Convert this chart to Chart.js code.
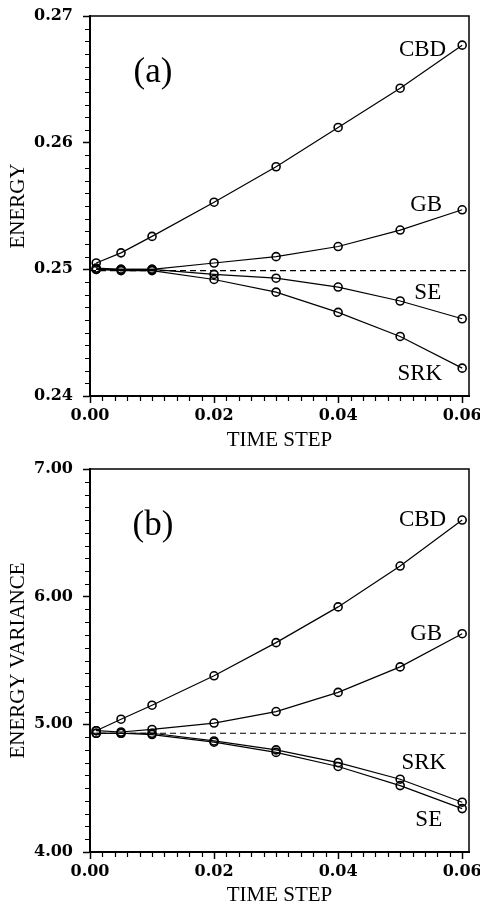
<!DOCTYPE html>
<html>
<head>
<meta charset="utf-8">
<script src="https://cdn.jsdelivr.net/npm/chart.js@4.4.1/dist/chart.umd.min.js"></script>
<style>
  html, body { margin: 0; padding: 0; background: #fff; }
  canvas { display: block; }
</style>
</head>
<body>
<canvas id="chartA" width="480" height="451"></canvas>
<canvas id="chartB" width="480" height="451"></canvas>
<script>
// time steps shared by both panels
const timeSteps = [0.001, 0.005, 0.01, 0.02, 0.03, 0.04, 0.05, 0.06];
const xTicks = [0.00, 0.02, 0.04, 0.06];

// (a) energy
const energyCBD = [0.2505, 0.2513, 0.2526, 0.2553, 0.2581, 0.2612, 0.2643, 0.2677];
const energyGB  = [0.2501, 0.2500, 0.2500, 0.2505, 0.2510, 0.2518, 0.2531, 0.2547];
const energySE  = [0.2500, 0.2500, 0.2500, 0.2496, 0.2493, 0.2486, 0.2475, 0.2461];
const energySRK = [0.2500, 0.2499, 0.2499, 0.2492, 0.2482, 0.2466, 0.2447, 0.2422];
const energyExact = 0.2499;
const energyTicks = [0.24, 0.25, 0.26, 0.27];

// (b) energy variance
const varCBD = [4.95, 5.04, 5.15, 5.38, 5.64, 5.92, 6.24, 6.60];
const varGB  = [4.95, 4.94, 4.96, 5.01, 5.10, 5.25, 5.45, 5.71];
const varSRK = [4.93, 4.93, 4.93, 4.87, 4.80, 4.70, 4.57, 4.39];
const varSE  = [4.93, 4.93, 4.92, 4.86, 4.78, 4.67, 4.52, 4.34];
const varExact = 4.93;
const varTicks = [4.00, 5.00, 6.00, 7.00];

const X_MAX = 0.0611;
const tickFont = { family: 'DejaVu Serif', size: 16, weight: 'bold' };
const titleFont = { family: 'Liberation Serif', size: 21, lineHeight: 1 };

function series(name, vals) {
  return {
    label: name,
    data: timeSteps.map((t, i) => ({ x: t, y: vals[i] })),
    borderColor: '#000',
    borderWidth: 1.2,
    pointRadius: 4,
    pointBorderWidth: 1.6,
    pointBorderColor: '#000',
    pointBackgroundColor: 'rgba(0,0,0,0)',
    tension: 0
  };
}

function exactLine(v) {
  return {
    label: 'exact',
    data: [{ x: 0, y: v }, { x: X_MAX, y: v }],
    borderColor: '#000',
    borderWidth: 1.2,
    borderDash: [6, 4],
    pointRadius: 0
  };
}

// frame, minor ticks, panel tag and curve labels
const panelDecor = {
  id: 'panelDecor',
  afterDraw(chart, args, opts) {
    const ctx = chart.ctx;
    const a = chart.chartArea;
    const xs = chart.scales.x, ys = chart.scales.y;
    ctx.save();
    ctx.strokeStyle = '#000';
    ctx.lineWidth = 1.5;
    ctx.strokeRect(a.left, a.top, a.right - a.left, a.bottom - a.top);

    ctx.lineWidth = 1.2;
    ctx.beginPath();
    for (let i = 1; i < 30; i++) {
      if (i % 10 === 0) continue;
      const px = Math.round(xs.getPixelForValue(i * 0.002)) + 0.5;
      ctx.moveTo(px, a.bottom);
      ctx.lineTo(px, a.bottom + 5);
    }
    for (let i = 1; i < 30; i++) {
      if (i % 10 === 0) continue;
      const py = Math.round(ys.getPixelForValue(opts.yMin + i * opts.yMinor)) + 0.5;
      ctx.moveTo(a.left - 5, py);
      ctx.lineTo(a.left, py);
    }
    ctx.stroke();

    ctx.fillStyle = '#000';
    ctx.textAlign = 'center';
    ctx.textBaseline = 'middle';
    ctx.font = '35px "Liberation Serif"';
    ctx.fillText(opts.tag, a.left + 63, a.top + 57);

    ctx.font = '23px "Liberation Serif"';
    ctx.textAlign = 'right';
    opts.labels.forEach(l => {
      const pts = chart.getDatasetMeta(l.ds).data;
      const p = pts[pts.length - 1];
      ctx.fillText(l.text, p.x + l.dx, p.y + l.dy);
    });
    ctx.restore();
  }
};

function makeChart(id, datasets, cfg) {
  return new Chart(document.getElementById(id), {
    type: 'line',
    data: { datasets: datasets },
    plugins: [panelDecor],
    options: {
      responsive: false,
      animation: false,
      events: [],
      layout: { padding: { top: cfg.top, right: 11, bottom: 0, left: 0 } },
      plugins: {
        legend: { display: false },
        tooltip: { enabled: false },
        panelDecor: { tag: cfg.tag, labels: cfg.labels, yMin: cfg.yTicks[0], yMinor: cfg.yMinor }
      },
      scales: {
        x: {
          type: 'linear',
          min: 0,
          max: X_MAX,
          afterBuildTicks: s => { s.ticks = xTicks.map(v => ({ value: v })); },
          afterFit: s => { s.height = cfg.xHeight; s.paddingLeft = 0; s.paddingRight = 0; },
          ticks: { callback: v => v.toFixed(2), font: tickFont, color: '#000', padding: 3, maxRotation: 0, autoSkip: false },
          grid: { drawOnChartArea: false, tickLength: 7, tickWidth: 1.5, color: '#000' },
          border: { color: '#000', width: 2 },
          title: { display: true, text: 'TIME STEP', font: titleFont, color: '#000', padding: { top: 0, bottom: cfg.xTitlePad } }
        },
        y: {
          type: 'linear',
          min: cfg.yTicks[0],
          max: cfg.yTicks[cfg.yTicks.length - 1],
          afterBuildTicks: s => { s.ticks = cfg.yTicks.map(v => ({ value: v })); },
          afterFit: s => { s.width = 90; s.paddingTop = 0; s.paddingBottom = 0; },
          ticks: { callback: v => v.toFixed(2), font: tickFont, color: '#000', padding: 10, autoSkip: false },
          grid: { drawOnChartArea: false, tickLength: 7, tickWidth: 1.5, color: '#000' },
          border: { color: '#000', width: 2 },
          title: { display: true, text: cfg.yTitle, font: titleFont, color: '#000', padding: { top: 7.5, bottom: 0 } }
        }
      }
    }
  });
}

makeChart('chartA',
  [exactLine(energyExact), series('CBD', energyCBD), series('GB', energyGB), series('SE', energySE), series('SRK', energySRK)],
  {
    top: 16, xHeight: 55, xTitlePad: 0.5, yTicks: energyTicks, yMinor: 0.001,
    yTitle: 'ENERGY', tag: '(a)',
    labels: [
      { text: 'CBD', ds: 1, dx: -16, dy: 5 },
      { text: 'GB', ds: 2, dx: -20, dy: -5 },
      { text: 'SE', ds: 3, dx: -21, dy: -26 },
      { text: 'SRK', ds: 4, dx: -20, dy: 6 }
    ]
  });

makeChart('chartB',
  [exactLine(varExact), series('CBD', varCBD), series('GB', varGB), series('SRK', varSRK), series('SE', varSE)],
  {
    top: 18, xHeight: 50, xTitlePad: -3.5, yTicks: varTicks, yMinor: 0.1,
    yTitle: 'ENERGY VARIANCE', tag: '(b)',
    labels: [
      { text: 'CBD', ds: 1, dx: -16, dy: 0 },
      { text: 'GB', ds: 2, dx: -20, dy: 0 },
      { text: 'SRK', ds: 3, dx: -16, dy: -39 },
      { text: 'SE', ds: 4, dx: -20, dy: 11 }
    ]
  });
</script>
</body>
</html>
